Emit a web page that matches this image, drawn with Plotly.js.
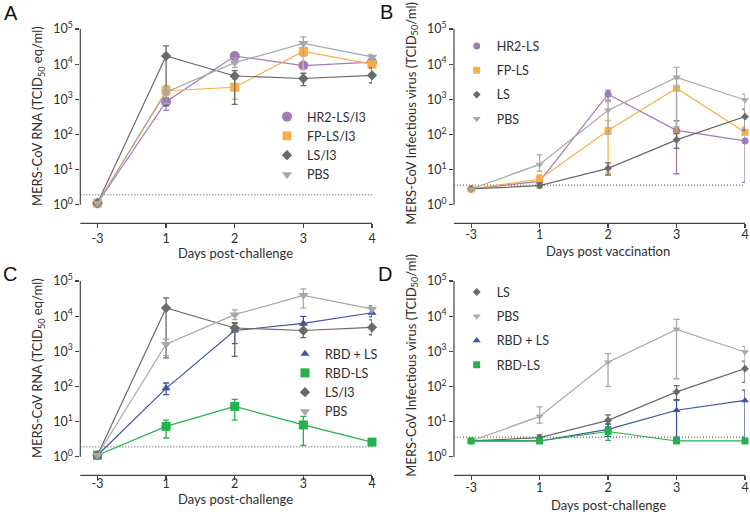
<!DOCTYPE html>
<html>
<head>
<meta charset="utf-8">
<script src="https://cdn.plot.ly/plotly-3.0.1.min.js"></script>
<style>html,body{margin:0;padding:0;background:#fff;}#chart{width:750px;height:515px;}</style>
</head>
<body>
<div id="chart"></div>
<script>
// ---- data ----
const days = ['-3', '1', '2', '3', '4'];
const yTickVals = [1, 10, 100, 1000, 10000, 100000];
const yTickText = ['10<sup>0</sup>', '10<sup>1</sup>', '10<sup>2</sup>', '10<sup>3</sup>', '10<sup>4</sup>', '10<sup>5</sup>'];
const lodRNA = 1.9;
const lodVirus = 3.6;

// MERS-CoV RNA (panels A and C)
const rnaHR2 = [1.1, 850, 17000, 9100, 11400];
const rnaHR2Hi = [1.1, 1100, 20000, 11000, 13500];
const rnaHR2Lo = [1.1, 480, 13000, 7500, 9500];
const rnaFP = [1.1, 1750, 2200, 23000, 10000];
const rnaFPHi = [1.1, 2500, 3800, 30000, 13000];
const rnaFPLo = [1.1, 1300, 1000, 7000, 8000];
const rnaLS = [1.1, 17000, 4600, 3900, 4800];
const rnaLSHi = [1.1, 33000, 6500, 5500, 7800];
const rnaLSLo = [1.1, 650, 720, 2450, 2950];
const rnaPBS = [1.1, 1580, 11000, 39000, 16000];
const rnaPBSHi = [1.1, 2200, 15000, 60000, 19000];
const rnaPBSLo = [1.1, 750, 8000, 17000, 13000];
const rnaRBDplus = [1.1, 88, 3900, 6200, 12500];
const rnaRBDplusHi = [1.1, 125, 6300, 9800, 19500];
const rnaRBDplusLo = [1.1, 58, 1640, 3800, 9500];
const rnaRBD = [1.1, 7.3, 27, 8, 2.6];
const rnaRBDHi = [1.1, 11, 43, 14, 2.9];
const rnaRBDLo = [1.1, 3.4, 11, 2.1, 2.1];

// MERS-CoV infectious virus (panels B and D)
const virHR2 = [2.8, 4.6, 1400, 130, 65];
const virHR2Hi = [2.8, 5.5, 1820, 245, 150];
const virHR2Lo = [2.8, 4, 940, 7.6, 4.3];
const virFP = [2.8, 5.3, 130, 2050, 115];
const virFPHi = [2.8, 7, 250, 3900, 160];
const virFPLo = [2.8, 4.5, 8, 107, 95];
const virLS = [2.8, 3.5, 10.8, 70, 320];
const virLSHi = [2.8, 4.2, 15.5, 105, 520];
const virLSLo = [2.8, 3, 7, 40, 130];
const virPBS = [2.8, 14, 490, 4200, 950];
const virPBSHi = [2.8, 26, 860, 8100, 1380];
const virPBSLo = [2.8, 9, 100, 165, 500];
const virRBDplus = [2.8, 2.8, 6, 21, 40];
const virRBDplusHi = [2.8, 3.3, 8.5, 42, 78];
const virRBDplusLo = [2.8, 2.8, 3.8, 3.6, 3.6];
const virRBD = [2.8, 2.8, 5.2, 2.8, 2.8];
const virRBDHi = [2.8, 3.2, 7, 2.8, 2.8];
const virRBDLo = [2.8, 2.8, 2.9, 2.8, 2.8];

// ---- styles ----
const C = {
  purple: '#9f7cb6',
  orange: '#f8ae45',
  dark: '#6a6a6a',
  light: '#a8a8a8',
  blue: '#3d54a4',
  green: '#22b14c'
};
const FONT = 'Lato, "Open Sans", sans-serif';
const TXT = '#2e2e2e';
const AX = '#444444';

const panels = {
  A: {x: 'x', y: 'y', legend: 'legend'},
  B: {x: 'x2', y: 'y2', legend: 'legend2'},
  C: {x: 'x3', y: 'y3', legend: 'legend3'},
  D: {x: 'x4', y: 'y4', legend: 'legend4'}
};

const traces = [];
function addSeries(p, name, y, hi, lo, color, symbol, size) {
  const pn = panels[p];
  const grp = p + '-' + name;
  traces.push({
    type: 'scatter', mode: 'lines', x: days, y: y, xaxis: pn.x, yaxis: pn.y,
    line: {color: color, width: 1.2}, showlegend: false, legend: pn.legend,
    legendgroup: grp, hoverinfo: 'skip', cliponaxis: false
  });
  traces.push({
    type: 'scatter', mode: 'markers', name: name, x: days, y: y, xaxis: pn.x, yaxis: pn.y,
    marker: {color: color, symbol: symbol, size: size, line: {width: 0}},
    error_y: {
      type: 'data', symmetric: false,
      array: hi.map((h, i) => Math.max(0, h - y[i])),
      arrayminus: lo.map((l, i) => Math.max(0, y[i] - l)),
      color: color, thickness: 1.3, width: 3
    },
    legend: pn.legend, legendgroup: grp, cliponaxis: false
  });
}

// Panel A
addSeries('A', 'HR2-LS/I3', rnaHR2, rnaHR2Hi, rnaHR2Lo, C.purple, 'circle', 10);
addSeries('A', 'FP-LS/I3', rnaFP, rnaFPHi, rnaFPLo, C.orange, 'square', 9);
addSeries('A', 'LS/I3', rnaLS, rnaLSHi, rnaLSLo, C.dark, 'diamond', 8);
addSeries('A', 'PBS', rnaPBS, rnaPBSHi, rnaPBSLo, C.light, 'triangle-down', 9);
// Panel B
addSeries('B', 'HR2-LS', virHR2, virHR2Hi, virHR2Lo, C.purple, 'circle', 7);
addSeries('B', 'FP-LS', virFP, virFPHi, virFPLo, C.orange, 'square', 7);
addSeries('B', 'LS', virLS, virLSHi, virLSLo, C.dark, 'diamond', 6);
addSeries('B', 'PBS', virPBS, virPBSHi, virPBSLo, C.light, 'triangle-down', 7);
// Panel C
addSeries('C', 'RBD + LS', rnaRBDplus, rnaRBDplusHi, rnaRBDplusLo, C.blue, 'triangle-up', 8);
addSeries('C', 'RBD-LS', rnaRBD, rnaRBDHi, rnaRBDLo, C.green, 'square', 9);
addSeries('C', 'LS/I3', rnaLS, rnaLSHi, rnaLSLo, C.dark, 'diamond', 8);
addSeries('C', 'PBS', rnaPBS, rnaPBSHi, rnaPBSLo, C.light, 'triangle-down', 9);
// Panel D
addSeries('D', 'LS', virLS, virLSHi, virLSLo, C.dark, 'diamond', 6);
addSeries('D', 'PBS', virPBS, virPBSHi, virPBSLo, C.light, 'triangle-down', 7);
addSeries('D', 'RBD + LS', virRBDplus, virRBDplusHi, virRBDplusLo, C.blue, 'triangle-up', 7);
addSeries('D', 'RBD-LS', virRBD, virRBDHi, virRBDLo, C.green, 'square', 7);

// ---- layout ----
const W = 750, H = 515;
const px = v => v / W;
const py = v => 1 - v / H;

function xAxis(domL, domR, anchor, standoff) {
  return {
    type: 'category', domain: [px(domL), px(domR)], anchor: anchor,
    range: [-0.25, 4], showgrid: false, zeroline: false, showline: false,
    ticks: 'outside', ticklen: 4, tickwidth: 1.2, tickcolor: AX,
    ticklabelstandoff: standoff,
    tickfont: {family: FONT, size: 12.5, color: TXT}, fixedrange: true
  };
}
function yAxis(top, bottom, anchor) {
  return {
    type: 'log', domain: [py(bottom), py(top)], anchor: anchor,
    range: [-0.53, 5], showgrid: false, zeroline: false, showline: false,
    tickvals: yTickVals, ticktext: yTickText,
    ticks: 'outside', ticklen: 4, tickwidth: 1.2, tickcolor: AX,
    tickfont: {family: FONT, size: 12.5, color: TXT}, fixedrange: true
  };
}
function legendCfg(left, top, gap) {
  return {
    x: px(left), y: py(top), xanchor: 'left', yanchor: 'top',
    bgcolor: 'rgba(0,0,0,0)', borderwidth: 0,
    font: {family: FONT, size: 12.5, color: TXT},
    traceorder: 'grouped', tracegroupgap: gap
  };
}

const axisShapes = [];
[['x', 'y', lodRNA], ['x2', 'y2', lodVirus], ['x3', 'y3', lodRNA], ['x4', 'y4', lodVirus]].forEach(([xa, ya, lod]) => {
  // x-axis line from first to last day
  axisShapes.push({type: 'line', xref: xa, yref: ya + ' domain', x0: days[0], x1: days[days.length - 1], y0: 0, y1: 0,
    line: {color: AX, width: 1.2}});
  // y-axis line spanning the decade ticks
  axisShapes.push({type: 'line', xref: xa + ' domain', yref: ya, x0: 0, x1: 0,
    y0: yTickVals[0], y1: yTickVals[yTickVals.length - 1], line: {color: AX, width: 1.2}});
  // detection limit
  axisShapes.push({type: 'line', layer: 'below', xref: xa + ' domain', yref: ya, x0: 0, x1: 1, y0: lod, y1: lod,
    line: {color: '#444444', width: 1, dash: '1px,2px'}});
});

function ann(text, x, y, size, angle, family) {
  return {text: text, xref: 'paper', yref: 'paper', x: x, y: y, xanchor: 'center', yanchor: 'middle',
    showarrow: false, textangle: angle || 0, font: {family: family || FONT, size: size, color: family ? '#111' : TXT}};
}
const LET = 'Arial, "Liberation Sans", sans-serif';
const annotations = [
  ann('A', px(11), py(13), 20, 0, LET),
  ann('B', px(386), py(12), 20, 0, LET),
  ann('C', px(10), py(274), 20, 0, LET),
  ann('D', px(385), py(274), 20, 0, LET),
  ann('MERS-CoV RNA (TCID<sub>50</sub> eq/ml)', px(38), py(116), 13, -90),
  ann('MERS-CoV Infectious virus (TCID<sub>50</sub>/ml)', px(411.7), py(113), 13, -90),
  ann('MERS-CoV RNA (TCID<sub>50</sub> eq/ml)', px(38), py(368), 13, -90),
  ann('MERS-CoV Infectious virus (TCID<sub>50</sub>/ml)', px(411.7), py(365), 13, -90),
  ann('Days post-challenge', px(235), py(253), 13),
  ann('Days post vaccination', px(608), py(251), 13),
  ann('Days post-challenge', px(235), py(499), 13),
  ann('Days post-challenge', px(608), py(505), 13)
];

const layout = {
  width: W, height: H,
  margin: {l: 0, r: 0, t: 0, b: 0},
  paper_bgcolor: '#ffffff', plot_bgcolor: 'rgba(0,0,0,0)',
  font: {family: FONT, color: TXT},
  showlegend: true,
  xaxis: xAxis(80.3, 372, 'y', 0),
  yaxis: yAxis(29, 223.3, 'x'),
  xaxis2: xAxis(454, 745, 'y2', -4),
  yaxis2: yAxis(29, 223.3, 'x2'),
  xaxis3: xAxis(80.3, 372, 'y3', -7),
  yaxis3: yAxis(281, 475.3, 'x3'),
  xaxis4: xAxis(454, 745, 'y4', -3),
  yaxis4: yAxis(281, 475.3, 'x4'),
  legend: legendCfg(267, 102, 0),
  legend2: legendCfg(456.7, 31.4, 5),
  legend3: legendCfg(285, 339, 0),
  legend4: legendCfg(456.7, 277.4, 5),
  shapes: axisShapes,
  annotations: annotations
};

Plotly.newPlot('chart', traces, layout, {displayModeBar: false, staticPlot: true});
</script>
</body>
</html>
